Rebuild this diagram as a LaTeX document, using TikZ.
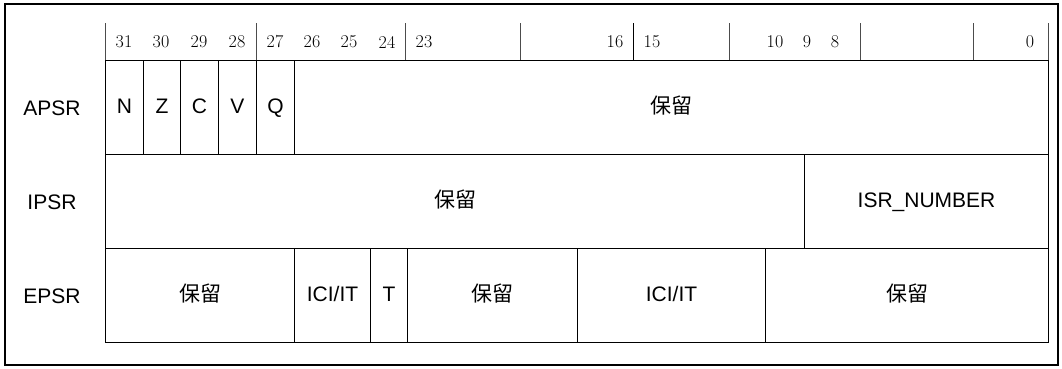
\documentclass[tikz,border=0pt]{standalone}
\usepackage{fontspec}
\newfontfamily\cjk{Noto Sans CJK SC}
\newfontfamily\labfont{Liberation Sans}
\usetikzlibrary{positioning}

\begin{document}
\begin{tikzpicture}[
  x=1pt, y=-1pt,
  cell/.style={draw, line width=1pt, inner sep=0pt, anchor=north west, minimum height=94pt, text height=15pt, text depth=4pt, font=\labfont\fontsize{21}{24}\selectfont},
  reg/.style={font=\labfont\fontsize{21}{24}\selectfont},
  bitnum/.style={font=\rmfamily\fontsize{18}{20}\selectfont},
  tick/.style={draw=gray!60!black, line width=0.9pt},
  frame/.style={draw, line width=2pt}
]
\useasboundingbox (0,0) rectangle (1062,368);
\draw[frame] (5,4) rectangle (1058,365);

\foreach \x in {105,256,405,520,729,860,973,1048} \draw[tick] (\x,23) -- (\x,60);
\draw[line width=0.9pt] (633,23) -- (633,60);
\foreach \b/\x in {31/124,30/161,29/199,28/237,27/275,26/312,25/349,24/387,23/424,16/615,15/652,10/775,9/807,8/835,0/1030}
  \node[bitnum] (b\b) at (\x,42) {\b};

\node[reg] (apsr) at (52,108) {APSR};
\node[reg] (ipsr) at (52,202) {IPSR};
\node[reg] (epsr) at (52,296) {EPSR};

\node[cell, minimum width=38pt] (n) at (105,60) {N};
\node[cell, minimum width=37pt] (z) at (143,60) {Z};
\node[cell, minimum width=38pt] (c) at (180,60) {C};
\node[cell, minimum width=38pt] (v) at (218,60) {V};
\node[cell, minimum width=38pt] (q) at (256,60) {Q};
\node[cell, minimum width=754pt] (ares) at (294,60) {\cjk 保留};

\node[cell, minimum width=699pt] (ires) at (105,154) {\cjk 保留};
\node[cell, minimum width=244pt] (isr) at (804,154) {ISR\_NUMBER};

\node[cell, minimum width=189pt] (eres1) at (105,248) {\cjk 保留};
\node[cell, minimum width=76pt] (ici1) at (294,248) {ICI/IT};
\node[cell, minimum width=37pt] (t) at (370,248) {T};
\node[cell, minimum width=170pt] (eres2) at (407,248) {\cjk 保留};
\node[cell, minimum width=188pt] (ici2) at (577,248) {ICI/IT};
\node[cell, minimum width=283pt] (eres3) at (765,248) {\cjk 保留};
\end{tikzpicture}
\end{document}
